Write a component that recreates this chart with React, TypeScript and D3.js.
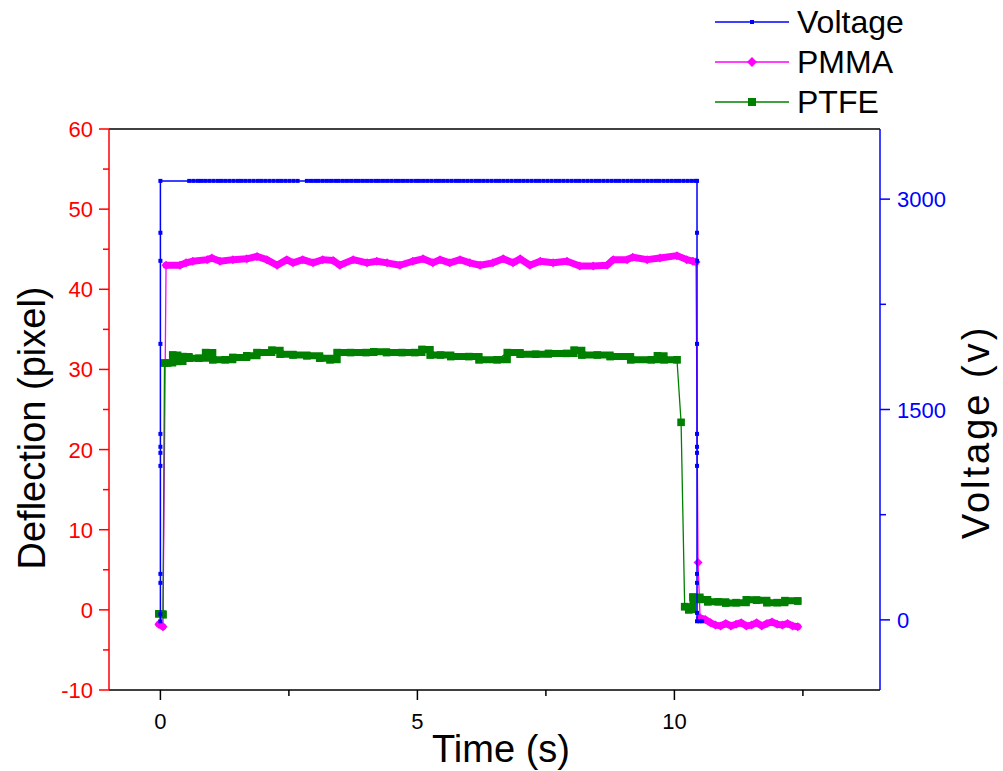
import React from "react";
import * as d3 from "d3";

// ---------- data ----------
const voltageT = [
  0, 0, 0, 0, 0, 0, 0, 0, 0, 0, 0, 0,
  0.56, 0.64, 0.72, 0.79, 0.87, 0.95, 1.03, 1.11, 1.18, 1.26, 1.34, 1.42, 1.5, 1.57,
  1.65, 1.73, 1.81, 1.89, 1.96, 2.04, 2.12, 2.2, 2.28, 2.35, 2.43, 2.51, 2.59, 2.67,
  2.85, 2.93, 3.01, 3.08, 3.16, 3.24, 3.32, 3.4, 3.47, 3.55, 3.63, 3.71, 3.79, 3.86,
  3.94, 4.02, 4.1, 4.18, 4.25, 4.33, 4.41, 4.49, 4.57, 4.64, 4.72, 4.8, 4.88, 4.96,
  5.03, 5.11, 5.19, 5.27, 5.35, 5.42, 5.5, 5.58, 5.66, 5.74, 5.81, 5.89, 5.97, 6.05,
  6.13, 6.2, 6.28, 6.36, 6.44, 6.52, 6.59, 6.67, 6.75, 6.83, 6.91, 6.98, 7.06, 7.14,
  7.22, 7.3, 7.37, 7.45, 7.53, 7.61, 7.69, 7.76, 7.84, 7.92, 8.0, 8.08, 8.15, 8.23,
  8.31, 8.39, 8.47, 8.54, 8.62, 8.7, 8.78, 8.86, 8.93, 9.01, 9.09, 9.17, 9.25, 9.32,
  9.4, 9.48, 9.56, 9.64, 9.71, 9.79, 9.87, 9.95, 10.03, 10.1, 10.18, 10.26, 10.34, 10.42,
  10.44, 10.44, 10.44, 10.44, 10.44, 10.44, 10.44, 10.44, 10.44, 10.44, 10.44, 10.44,
  10.49, 10.54,
];
const voltageV = [
  -10, 40, 264, 328, 1098, 1191, 1234, 1326, 1968, 2560, 2760, 3130,
  3130, 3130, 3130, 3130, 3130, 3130, 3130, 3130, 3130, 3130, 3130, 3130, 3130, 3130,
  3130, 3130, 3130, 3130, 3130, 3130, 3130, 3130, 3130, 3130, 3130, 3130, 3130, 3130,
  3130, 3130, 3130, 3130, 3130, 3130, 3130, 3130, 3130, 3130, 3130, 3130, 3130, 3130,
  3130, 3130, 3130, 3130, 3130, 3130, 3130, 3130, 3130, 3130, 3130, 3130, 3130, 3130,
  3130, 3130, 3130, 3130, 3130, 3130, 3130, 3130, 3130, 3130, 3130, 3130, 3130, 3130,
  3130, 3130, 3130, 3130, 3130, 3130, 3130, 3130, 3130, 3130, 3130, 3130, 3130, 3130,
  3130, 3130, 3130, 3130, 3130, 3130, 3130, 3130, 3130, 3130, 3130, 3130, 3130, 3130,
  3130, 3130, 3130, 3130, 3130, 3130, 3130, 3130, 3130, 3130, 3130, 3130, 3130, 3130,
  3130, 3130, 3130, 3130, 3130, 3130, 3130, 3130, 3130, 3130, 3130, 3130, 3130, 3130,
  3130, 2760, 2560, 1968, 1326, 1234, 1191, 1098, 328, 264, 50, -10,
  -10, -10,
];

const pmmaT = [
  -0.03, 0.05, 0.11, 0.38, 0.5, 0.63, 0.91, 1.0, 1.16, 1.41, 1.68, 1.88, 2.07, 2.27, 2.46,
  2.58, 2.77, 2.97, 3.16, 3.36, 3.49, 3.75, 4.02, 4.21, 4.41, 4.66, 4.91, 5.11, 5.3, 5.44,
  5.63, 5.83, 6.02, 6.22, 6.47, 6.67, 6.86, 7.0, 7.19, 7.39, 7.64, 7.91, 8.16, 8.42, 8.69,
  8.81, 9.08, 9.19, 9.47, 9.72, 10.05, 10.24, 10.36, 10.42, 10.46,
  10.5, 10.6, 10.7, 10.8, 10.9, 11.0, 11.1, 11.2, 11.3, 11.4, 11.5, 11.6, 11.7, 11.8, 11.9,
  12.0, 12.1, 12.2, 12.3, 12.4,
];
const pmmaV = [
  -1.8, -2.1, 43.0, 43.0, 43.3, 43.5, 43.7, 43.9, 43.5, 43.7, 43.8, 44.1, 43.7, 43.0, 43.7,
  43.3, 43.7, 43.3, 43.7, 43.6, 43.0, 43.7, 43.3, 43.5, 43.3, 43.0, 43.5, 43.8, 43.3, 43.7,
  43.3, 43.7, 43.3, 43.0, 43.3, 43.8, 43.3, 43.8, 43.0, 43.5, 43.3, 43.5, 42.9, 42.9, 43.0,
  43.7, 43.7, 44.0, 43.7, 43.9, 44.2, 43.7, 43.5, 43.4, 5.9,
  -1.0, -1.2, -1.6, -1.9, -2.0, -1.7, -2.0, -1.8, -1.6, -2.0, -1.9, -1.6, -2.0, -1.7, -1.5,
  -1.8, -1.9, -1.7, -2.0, -2.1,
];

const ptfeT = [
  -0.03, 0.05, 0.08, 0.14, 0.24, 0.34, 0.44, 0.56, 0.75, 0.88, 1.02, 1.26, 1.41, 1.68, 1.88,
  2.17, 2.33, 2.58, 2.85, 3.1, 3.3, 3.44, 3.7, 4.0, 4.15, 4.4, 4.7, 4.95, 5.09, 5.25,
  5.45, 5.65, 6.0, 6.2, 6.55, 6.75, 7.0, 7.3, 7.55, 7.9, 8.05, 8.2, 8.5, 8.75, 9.15,
  9.55, 9.67, 9.8, 10.05, 10.13, 10.2, 10.28, 10.36, 10.5, 10.65, 10.85, 11.0, 11.2, 11.4, 11.6,
  11.8, 12.0, 12.15, 12.4,
];
const ptfeV = [
  -0.5, -0.6, 30.8, 30.8, 31.8, 31.0, 31.6, 31.4, 31.4, 32.1, 31.2, 31.2, 31.5, 31.7, 32.1,
  32.4, 31.9, 31.8, 31.7, 31.4, 31.2, 32.1, 32.1, 32.1, 32.2, 32.1, 32.1, 32.1, 32.5, 31.8,
  31.8, 31.6, 31.6, 31.2, 31.2, 32.1, 31.9, 31.9, 32.0, 32.0, 32.4, 31.8, 31.8, 31.6, 31.2,
  31.2, 31.7, 31.2, 31.2, 23.4, 0.4, 0.0, 1.6, 1.3, 1.0, 1.0, 0.85, 0.9, 1.25, 1.2,
  0.9, 0.9, 1.15, 1.1,
];

const xMajorTicks = [0, 5, 10];
const xMinorTicks = [2.5, 7.5, 12.5];
const leftMajorTicks = [-10, 0, 10, 20, 30, 40, 50, 60];
const leftMinorTicks = [-5, 5, 15, 25, 35, 45, 55];
const rightMajorTicks = [0, 1500, 3000];
const rightMinorTicks = [750, 2250];

const seriesNames = ["Voltage", "PMMA", "PTFE"];

// ---------- layout ----------
const W = 1003;
const H = 771;
const L = 109, R = 880, T = 129, B = 690;
const FONT = "'Liberation Sans', Arial, sans-serif";
const BLUE = "#0000ff";
const MAG = "#ff00ff";
const GREEN = "#008000";
const RED = "#ff0000";

type P = [number, number];

function zip(a: number[], b: number[]): P[] {
  return a.map((t, i) => [t, b[i]] as P);
}

// runs of consecutive points with small value change (dense marker bands)
function bandRuns(pts: P[], maxStep: number): P[][] {
  const runs: P[][] = [];
  let cur: P[] = [pts[0]];
  for (let i = 1; i < pts.length; i++) {
    if (Math.abs(pts[i][1] - pts[i - 1][1]) < maxStep) cur.push(pts[i]);
    else {
      if (cur.length > 1) runs.push(cur);
      cur = [pts[i]];
    }
  }
  if (cur.length > 1) runs.push(cur);
  return runs;
}

export default function App() {
  const x = d3.scaleLinear().domain([-1, 14]).range([L, R]);
  const yL = d3.scaleLinear().domain([-10, 60]).range([B, T]);
  const yR = d3.scaleLinear().domain([-500, 3500]).range([B, T]);

  const volt = zip(voltageT, voltageV);
  const pmma = zip(pmmaT, pmmaV);
  const ptfe = zip(ptfeT, ptfeV);

  const lineR = d3.line<P>().x((d) => x(d[0])).y((d) => yR(d[1]));
  const lineL = d3.line<P>().x((d) => x(d[0])).y((d) => yL(d[1]));
  const stepL = d3
    .line<P>()
    .x((d) => x(d[0]))
    .y((d) => yL(d[1]))
    .curve(d3.curveStepAfter);

  const diamond = (cx: number, cy: number, r: number) =>
    `M${cx},${cy - r}L${cx + r},${cy}L${cx},${cy + r}L${cx - r},${cy}Z`;

  const legendY = [22, 62, 102];

  return (
    <svg
      width={W}
      height={H}
      style={{ position: "absolute", left: 0, top: 0, background: "#fff" }}
      fontFamily={FONT}
    >
      <rect x={0} y={0} width={W} height={H} fill="#fff" />

      {/* PMMA */}
      <g>
        <path d={lineL(pmma) || ""} fill="none" stroke={MAG} strokeWidth={1.3} />
        {bandRuns(pmma, 3).map((run, i) => (
          <path
            key={i}
            d={lineL(run) || ""}
            fill="none"
            stroke={MAG}
            strokeWidth={7}
            strokeLinejoin="round"
            strokeLinecap="round"
          />
        ))}
        {pmma.map((d, i) => (
          <path key={i} d={diamond(x(d[0]), yL(d[1]), 4.5)} fill={MAG} />
        ))}
      </g>

      {/* PTFE */}
      <g>
        <path d={lineL(ptfe) || ""} fill="none" stroke={GREEN} strokeWidth={1.3} />
        {bandRuns(ptfe, 3).map((run, i) => (
          <path
            key={i}
            d={stepL(run) || ""}
            fill="none"
            stroke={GREEN}
            strokeWidth={7}
            strokeLinejoin="miter"
            strokeLinecap="square"
          />
        ))}
        {ptfe.map((d, i) => (
          <rect
            key={i}
            x={x(d[0]) - 3.8}
            y={yL(d[1]) - 3.8}
            width={7.6}
            height={7.6}
            fill={GREEN}
          />
        ))}
      </g>

      {/* Voltage */}
      <g>
        <path d={lineR(volt) || ""} fill="none" stroke={BLUE} strokeWidth={1.5} />
        {volt.map((d, i) => (
          <rect
            key={i}
            x={x(d[0]) - 2}
            y={yR(d[1]) - 2}
            width={4}
            height={4}
            fill={BLUE}
          />
        ))}
      </g>

      {/* frame: top */}
      <line x1={L} x2={R} y1={T} y2={T} stroke="#000" strokeWidth={1.5} />

      {/* bottom axis */}
      <g>
        <line x1={L} x2={R} y1={B} y2={B} stroke="#000" strokeWidth={1.5} />
        {xMajorTicks.map((t) => (
          <g key={t}>
            <line x1={x(t)} x2={x(t)} y1={B} y2={B + 10} stroke="#000" strokeWidth={1.5} />
            <text x={x(t)} y={729} textAnchor="middle" fontSize={22} fill="#000">
              {t}
            </text>
          </g>
        ))}
        {xMinorTicks.map((t) => (
          <line key={t} x1={x(t)} x2={x(t)} y1={B} y2={B + 6} stroke="#000" strokeWidth={1.5} />
        ))}
        <text x={501} y={762} textAnchor="middle" fontSize={38} fill="#000">
          Time (s)
        </text>
      </g>

      {/* left axis */}
      <g>
        <line x1={L} x2={L} y1={T} y2={B} stroke={RED} strokeWidth={1.5} />
        {leftMajorTicks.map((t) => (
          <g key={t}>
            <line x1={L - 10} x2={L} y1={yL(t)} y2={yL(t)} stroke={RED} strokeWidth={1.5} />
            <text x={93} y={yL(t) + 8} textAnchor="end" fontSize={22} fill={RED}>
              {t}
            </text>
          </g>
        ))}
        {leftMinorTicks.map((t) => (
          <line key={t} x1={L - 6} x2={L} y1={yL(t)} y2={yL(t)} stroke={RED} strokeWidth={1.5} />
        ))}
        <text
          transform={`translate(45,428) rotate(-90)`}
          textAnchor="middle"
          fontSize={38}
          fill="#000"
        >
          Deflection (pixel)
        </text>
      </g>

      {/* right axis */}
      <g>
        <line x1={R} x2={R} y1={T} y2={B} stroke={BLUE} strokeWidth={1.5} />
        {rightMajorTicks.map((t) => (
          <g key={t}>
            <line x1={R} x2={R + 10} y1={yR(t)} y2={yR(t)} stroke={BLUE} strokeWidth={1.5} />
            <text x={897} y={yR(t) + 8} textAnchor="start" fontSize={22} fill={BLUE}>
              {t}
            </text>
          </g>
        ))}
        {rightMinorTicks.map((t) => (
          <line key={t} x1={R} x2={R + 6} y1={yR(t)} y2={yR(t)} stroke={BLUE} strokeWidth={1.5} />
        ))}
        <text
          transform={`translate(989,432) rotate(-90)`}
          textAnchor="middle"
          fontSize={38}
          letterSpacing={3}
          fill="#000"
        >
          Voltage (v)
        </text>
      </g>

      {/* legend */}
      <g>
        {seriesNames.map((name, i) => {
          const ly = legendY[i];
          const color = i === 0 ? BLUE : i === 1 ? MAG : GREEN;
          return (
            <g key={name}>
              <line x1={715} x2={789} y1={ly} y2={ly} stroke={color} strokeWidth={1.5} />
              {i === 0 && <rect x={750} y={ly - 2} width={4} height={4} fill={color} />}
              {i === 1 && <path d={diamond(752, ly, 5)} fill={color} />}
              {i === 2 && <rect x={748} y={ly - 4} width={8} height={8} fill={color} />}
              <text x={797} y={ly + 11} fontSize={32} fill="#000">
                {name}
              </text>
            </g>
          );
        })}
      </g>
    </svg>
  );
}
